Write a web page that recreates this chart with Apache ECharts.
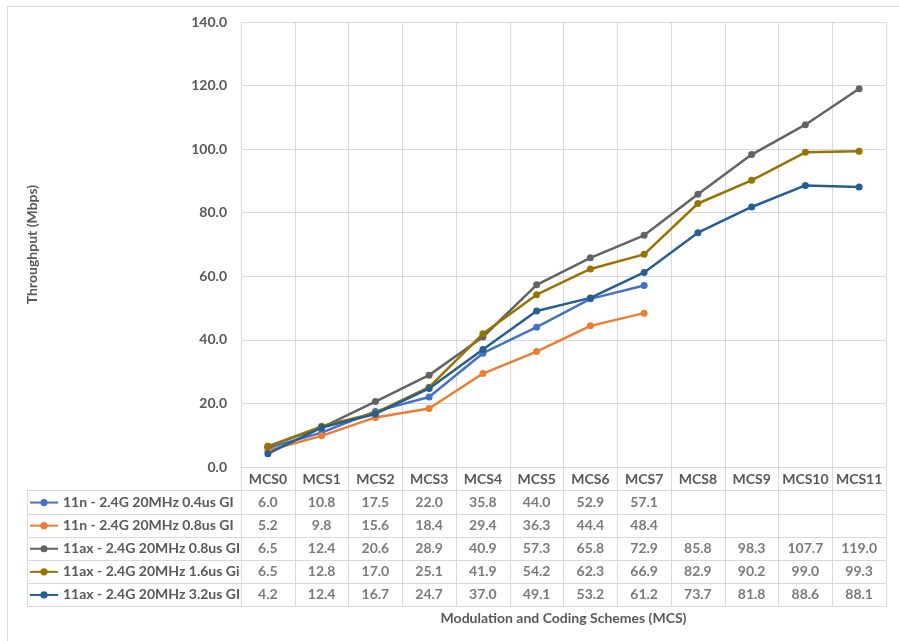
<!DOCTYPE html>
<html>
<head>
<meta charset="utf-8">
<title>Throughput by MCS</title>
<script src="https://cdn.jsdelivr.net/npm/echarts@6/dist/echarts.min.js"></script>
<style>
  html, body { margin: 0; padding: 0; background: #ffffff; }
  #chart { width: 899px; height: 641px; }
</style>
</head>
<body>
<div id="chart"></div>
<script>
// Modulation and coding scheme indexes along the x axis
const categories = ['MCS0', 'MCS1', 'MCS2', 'MCS3', 'MCS4', 'MCS5', 'MCS6', 'MCS7', 'MCS8', 'MCS9', 'MCS10', 'MCS11'];

// Series names (also the data-table row headers)
const seriesNames = [
  '11n - 2.4G 20MHz 0.4us GI',
  '11n - 2.4G 20MHz 0.8us GI',
  '11ax - 2.4G 20MHz 0.8us GI',
  '11ax - 2.4G 20MHz 1.6us Gi',
  '11ax - 2.4G 20MHz 3.2us GI'
];

// Measured throughput in Mbps (null = MCS not supported)
const n11_04us = [6.0, 10.8, 17.5, 22.0, 35.8, 44.0, 52.9, 57.1, null, null, null, null];
const n11_08us = [5.2, 9.8, 15.6, 18.4, 29.4, 36.3, 44.4, 48.4, null, null, null, null];
const ax11_08us = [6.5, 12.4, 20.6, 28.9, 40.9, 57.3, 65.8, 72.9, 85.8, 98.3, 107.7, 119.0];
const ax11_16us = [6.5, 12.8, 17.0, 25.1, 41.9, 54.2, 62.3, 66.9, 82.9, 90.2, 99.0, 99.3];
const ax11_32us = [4.2, 12.4, 16.7, 24.7, 37.0, 49.1, 53.2, 61.2, 73.7, 81.8, 88.6, 88.1];

// Y axis tick range
const yTicks = { min: 0, max: 140, step: 20 };

const seriesValues = [n11_04us, n11_08us, ax11_08us, ax11_16us, ax11_32us];
const seriesColors = ['#4472C4', '#ED7D31', '#636363', '#997300', '#255E91'];

const textColor = '#595959';
const gridColor = '#D9D9D9';
const fontFamily = 'Lato, "Open Sans", sans-serif';
const fontSize = 14;

const chart = echarts.init(document.getElementById('chart'), null, { renderer: 'canvas' });

// Line series in the plot area
const lineSeries = seriesValues.map((vals, i) => ({
  name: seriesNames[i],
  type: 'line',
  xAxisIndex: 0,
  yAxisIndex: 0,
  data: vals,
  color: seriesColors[i],
  symbol: 'circle',
  symbolSize: 7,
  lineStyle: { width: 2.5, color: seriesColors[i] },
  itemStyle: { color: seriesColors[i] },
  connectNulls: false
}));

// Data table cells: one label per (category, row) pair
const tableSeries = seriesValues.map((vals, i) => ({
  name: seriesNames[i],
  type: 'scatter',
  xAxisIndex: 1,
  yAxisIndex: 1,
  silent: true,
  symbolSize: 0,
  color: seriesColors[i],
  data: vals
    .map((v, j) => (v === null ? null : [categories[j], seriesNames[i], v]))
    .filter(d => d !== null),
  label: {
    show: true,
    position: 'inside',
    formatter: p => p.value[2].toFixed(1),
    color: textColor,
    fontFamily: fontFamily,
    fontWeight: 'bold',
    fontSize: fontSize
  }
}));

const option = {
  backgroundColor: '#ffffff',
  animation: false,
  textStyle: { fontFamily: fontFamily },
  graphic: [{
    type: 'rect',
    shape: { x: 7.5, y: 6.5, width: 1000, height: 1000 },
    style: { fill: 'none', stroke: gridColor, lineWidth: 1 },
    silent: true,
    z: -10
  }],
  legend: {
    orient: 'vertical',
    left: 29,
    top: 491,
    padding: 0,
    itemGap: 0,
    itemWidth: 28,
    itemHeight: 9,
    data: seriesNames,
    textStyle: {
      color: textColor,
      fontFamily: fontFamily,
      fontWeight: 'bold',
      fontSize: fontSize,
      lineHeight: 23.1
    }
  },
  grid: [
    // plot area
    { left: 241, right: 13, top: 22, bottom: 174, containLabel: false },
    // data table values
    { left: 241, right: 13, top: 490.7, height: 115.5, containLabel: false },
    // data table row-header column
    { left: 27, width: 214, top: 490.7, height: 115.5, containLabel: false }
  ],
  xAxis: [
    {
      gridIndex: 0,
      type: 'category',
      data: categories,
      boundaryGap: true,
      axisLine: { show: true, lineStyle: { color: gridColor, width: 1 } },
      axisTick: { show: true, interval: 0, alignWithLabel: false, length: 23.7, lineStyle: { color: gridColor } },
      axisLabel: {
        interval: 0,
        margin: 5,
        color: textColor,
        fontFamily: fontFamily,
        fontWeight: 'bold',
        fontSize: fontSize
      },
      splitLine: { show: true, interval: 0, lineStyle: { color: gridColor, width: 1 } },
      name: 'Modulation and Coding Schemes (MCS)',
      nameLocation: 'middle',
      nameGap: 144,
      nameTextStyle: { color: textColor, fontFamily: fontFamily, fontWeight: 'bold', fontSize: fontSize }
    },
    {
      gridIndex: 1,
      type: 'category',
      data: categories,
      boundaryGap: true,
      axisLine: { show: true, lineStyle: { color: gridColor } },
      axisTick: { show: false },
      axisLabel: { show: false },
      splitLine: { show: true, interval: 0, lineStyle: { color: gridColor, width: 1 } }
    },
    {
      gridIndex: 2,
      type: 'category',
      data: [''],
      boundaryGap: true,
      axisLine: { show: true, lineStyle: { color: gridColor } },
      axisTick: { show: false },
      axisLabel: { show: false },
      splitLine: { show: true, interval: 0, lineStyle: { color: gridColor, width: 1 } }
    }
  ],
  yAxis: [
    {
      gridIndex: 0,
      type: 'value',
      min: yTicks.min,
      max: yTicks.max,
      interval: yTicks.step,
      axisLine: { show: false },
      axisTick: { show: false },
      axisLabel: {
        margin: 14,
        formatter: v => v.toFixed(1),
        color: textColor,
        fontFamily: fontFamily,
        fontWeight: 'bold',
        fontSize: fontSize
      },
      splitLine: { show: true, lineStyle: { color: gridColor, width: 1 } },
      name: 'Throughput (Mbps)',
      nameLocation: 'middle',
      nameGap: 202,
      nameRotate: 90,
      nameTextStyle: { color: textColor, fontFamily: fontFamily, fontWeight: 'bold', fontSize: fontSize }
    },
    {
      gridIndex: 1,
      type: 'category',
      data: seriesNames,
      inverse: true,
      boundaryGap: true,
      axisLine: { show: false },
      axisTick: { show: false },
      axisLabel: { show: false },
      splitLine: { show: true, interval: 0, lineStyle: { color: gridColor, width: 1 } }
    },
    {
      gridIndex: 2,
      type: 'category',
      data: seriesNames,
      inverse: true,
      boundaryGap: true,
      axisLine: { show: false },
      axisTick: { show: false },
      axisLabel: { show: false },
      splitLine: { show: true, interval: 0, lineStyle: { color: gridColor, width: 1 } }
    }
  ],
  series: lineSeries.concat(tableSeries)
};

chart.setOption(option);
</script>
</body>
</html>
